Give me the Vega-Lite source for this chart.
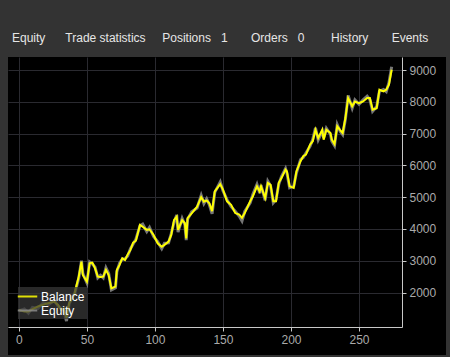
{
  "$schema": "https://vega.github.io/schema/vega-lite/v6.json",
  "autosize": {"type": "none"},
  "padding": {"left": 8, "top": 57, "right": 4, "bottom": 2},
  "width": 438,
  "height": 298,
  "background": "#333333",
  "title": {
    "text": "Equity\u00a0\u00a0\u00a0\u00a0\u00a0\u00a0Trade statistics\u00a0\u00a0\u00a0\u00a0\u00a0Positions\u00a0\u00a0\u00a01\u00a0\u00a0\u00a0\u00a0\u00a0\u00a0\u00a0Orders\u00a0\u00a0\u00a00\u00a0\u00a0\u00a0\u00a0\u00a0\u00a0\u00a0\u00a0History\u00a0\u00a0\u00a0\u00a0\u00a0\u00a0\u00a0Events",
    "anchor": "start",
    "dx": 4,
    "offset": 3,
    "baseline": "alphabetic",
    "color": "#e6e6e6",
    "fontSize": 12,
    "font": "Liberation Sans",
    "fontWeight": "normal"
  },
  "config": {
    "view": {"fill": "#000000", "stroke": null},
    "font": "Liberation Sans"
  },
  "data": {
    "values": [
      {"x": 0, "Balance": 1450, "Equity": 1420},
      {"x": 4, "Balance": 1400, "Equity": 1480},
      {"x": 7, "Balance": 1400, "Equity": 1350},
      {"x": 10, "Balance": 1480, "Equity": 1530},
      {"x": 14, "Balance": 1560, "Equity": 1500},
      {"x": 18, "Balance": 1620, "Equity": 1680},
      {"x": 22, "Balance": 1670, "Equity": 1620},
      {"x": 26, "Balance": 1710, "Equity": 1760},
      {"x": 29, "Balance": 1600, "Equity": 1560},
      {"x": 31, "Balance": 1450, "Equity": 1500},
      {"x": 33, "Balance": 1500, "Equity": 1420},
      {"x": 35, "Balance": 1200, "Equity": 1100},
      {"x": 37, "Balance": 1670, "Equity": 1640},
      {"x": 39, "Balance": 1800, "Equity": 1850},
      {"x": 41, "Balance": 1990, "Equity": 1960},
      {"x": 44, "Balance": 2500, "Equity": 2450},
      {"x": 46, "Balance": 2970, "Equity": 3000},
      {"x": 47, "Balance": 2550, "Equity": 2600},
      {"x": 50, "Balance": 2340, "Equity": 2300},
      {"x": 52, "Balance": 2920, "Equity": 2960},
      {"x": 54, "Balance": 2940, "Equity": 2900},
      {"x": 56, "Balance": 2760, "Equity": 2800},
      {"x": 58, "Balance": 2500, "Equity": 2460},
      {"x": 60, "Balance": 2490, "Equity": 2540},
      {"x": 62, "Balance": 2500, "Equity": 2460},
      {"x": 64, "Balance": 2710, "Equity": 2780},
      {"x": 66, "Balance": 2550, "Equity": 2600},
      {"x": 68, "Balance": 2130, "Equity": 2080},
      {"x": 71, "Balance": 2190, "Equity": 2150},
      {"x": 72, "Balance": 2710, "Equity": 2650},
      {"x": 74, "Balance": 2870, "Equity": 2920},
      {"x": 76, "Balance": 3080, "Equity": 3050},
      {"x": 78, "Balance": 3020, "Equity": 3060},
      {"x": 80, "Balance": 3200, "Equity": 3150},
      {"x": 82, "Balance": 3340, "Equity": 3380},
      {"x": 84, "Balance": 3570, "Equity": 3530},
      {"x": 86, "Balance": 3630, "Equity": 3680},
      {"x": 89, "Balance": 4130, "Equity": 4100},
      {"x": 91, "Balance": 4070, "Equity": 4150},
      {"x": 94, "Balance": 3970, "Equity": 3920},
      {"x": 96, "Balance": 3990, "Equity": 4050},
      {"x": 99, "Balance": 3810, "Equity": 3760},
      {"x": 102, "Balance": 3550, "Equity": 3600},
      {"x": 105, "Balance": 3440, "Equity": 3380},
      {"x": 107, "Balance": 3500, "Equity": 3550},
      {"x": 110, "Balance": 3600, "Equity": 3560},
      {"x": 112, "Balance": 3810, "Equity": 3860},
      {"x": 114, "Balance": 4280, "Equity": 4200},
      {"x": 116, "Balance": 4390, "Equity": 4440},
      {"x": 117, "Balance": 3970, "Equity": 3900},
      {"x": 120, "Balance": 4280, "Equity": 4330},
      {"x": 122, "Balance": 4180, "Equity": 4130},
      {"x": 123, "Balance": 3700, "Equity": 3650},
      {"x": 124, "Balance": 4340, "Equity": 4300},
      {"x": 127, "Balance": 4490, "Equity": 4540},
      {"x": 131, "Balance": 4700, "Equity": 4660},
      {"x": 134, "Balance": 5000, "Equity": 5060},
      {"x": 136, "Balance": 4860, "Equity": 4800},
      {"x": 138, "Balance": 4900, "Equity": 4950},
      {"x": 140, "Balance": 4810, "Equity": 4760},
      {"x": 142, "Balance": 4560, "Equity": 4480},
      {"x": 144, "Balance": 5180, "Equity": 5150},
      {"x": 148, "Balance": 5410, "Equity": 5480},
      {"x": 150, "Balance": 5240, "Equity": 5200},
      {"x": 153, "Balance": 4870, "Equity": 4920},
      {"x": 156, "Balance": 4760, "Equity": 4700},
      {"x": 159, "Balance": 4500, "Equity": 4560},
      {"x": 162, "Balance": 4450, "Equity": 4400},
      {"x": 164, "Balance": 4350, "Equity": 4250},
      {"x": 166, "Balance": 4500, "Equity": 4550},
      {"x": 170, "Balance": 4870, "Equity": 4820},
      {"x": 172, "Balance": 5030, "Equity": 5090},
      {"x": 175, "Balance": 5340, "Equity": 5400},
      {"x": 177, "Balance": 5180, "Equity": 5130},
      {"x": 178, "Balance": 5340, "Equity": 5380},
      {"x": 181, "Balance": 4970, "Equity": 4900},
      {"x": 183, "Balance": 5450, "Equity": 5500},
      {"x": 185, "Balance": 5390, "Equity": 5350},
      {"x": 187, "Balance": 4870, "Equity": 4820},
      {"x": 189, "Balance": 4870, "Equity": 4920},
      {"x": 191, "Balance": 5450, "Equity": 5400},
      {"x": 193, "Balance": 5600, "Equity": 5650},
      {"x": 196, "Balance": 5865, "Equity": 5900},
      {"x": 197, "Balance": 5810, "Equity": 5760},
      {"x": 199, "Balance": 5340, "Equity": 5300},
      {"x": 202, "Balance": 5290, "Equity": 5350},
      {"x": 204, "Balance": 5810, "Equity": 5760},
      {"x": 207, "Balance": 6130, "Equity": 6180},
      {"x": 209, "Balance": 6290, "Equity": 6250},
      {"x": 211, "Balance": 6340, "Equity": 6390},
      {"x": 214, "Balance": 6650, "Equity": 6600},
      {"x": 216, "Balance": 6760, "Equity": 6820},
      {"x": 218, "Balance": 7120, "Equity": 7180},
      {"x": 220, "Balance": 6860, "Equity": 6800},
      {"x": 223, "Balance": 7120, "Equity": 7080},
      {"x": 224, "Balance": 6810, "Equity": 6860},
      {"x": 226, "Balance": 7120, "Equity": 7170},
      {"x": 229, "Balance": 7020, "Equity": 6980},
      {"x": 230, "Balance": 6810, "Equity": 6760},
      {"x": 232, "Balance": 6670, "Equity": 6620},
      {"x": 234, "Balance": 7230, "Equity": 7280},
      {"x": 236, "Balance": 7120, "Equity": 7080},
      {"x": 238, "Balance": 7020, "Equity": 6970},
      {"x": 240, "Balance": 7490, "Equity": 7450},
      {"x": 242, "Balance": 8120, "Equity": 8200},
      {"x": 245, "Balance": 7860, "Equity": 7800},
      {"x": 247, "Balance": 8010, "Equity": 8060},
      {"x": 250, "Balance": 7960, "Equity": 7920},
      {"x": 253, "Balance": 8010, "Equity": 8060},
      {"x": 256, "Balance": 8120, "Equity": 8180},
      {"x": 258, "Balance": 8120, "Equity": 8070},
      {"x": 260, "Balance": 7750, "Equity": 7700},
      {"x": 263, "Balance": 7800, "Equity": 7850},
      {"x": 265, "Balance": 8380, "Equity": 8330},
      {"x": 268, "Balance": 8330, "Equity": 8390},
      {"x": 270, "Balance": 8380, "Equity": 8320},
      {"x": 272, "Balance": 8540, "Equity": 8600},
      {"x": 274, "Balance": 9010, "Equity": 9100}
    ]
  },
  "transform": [{"fold": ["Balance", "Equity"], "as": ["series", "value"]}],
  "resolve": {"axis": {"x": "independent", "y": "independent"}},
  "layer": [
    {
      "transform": [{"filter": "datum.series === 'Equity'"}],
      "mark": {"type": "line", "strokeWidth": 3, "opacity": 0.85},
      "encoding": {
        "x": {
          "field": "x",
          "type": "quantitative",
          "scale": {"domain": [-8, 281.6], "range": [0, 394], "nice": false, "zero": false},
          "axis": {
            "orient": "top",
            "values": [0, 50, 100, 150, 200, 250],
            "title": null,
            "grid": true,
            "gridColor": "#2a2a30",
            "domain": false,
            "ticks": false,
            "labels": false
          }
        },
        "y": {
          "field": "value",
          "type": "quantitative",
          "scale": {"domain": [915, 9410], "range": [270, 0], "nice": false, "zero": false},
          "axis": {
            "orient": "left",
            "values": [2000, 3000, 4000, 5000, 6000, 7000, 8000, 9000],
            "title": null,
            "grid": true,
            "gridColor": "#2a2a30",
            "domain": false,
            "ticks": false,
            "labels": false
          }
        },
        "color": {
          "field": "series",
          "type": "nominal",
          "scale": {"domain": ["Balance", "Equity"], "range": ["#ffff00", "#8a8a8a"]},
          "legend": {
            "orient": "none",
            "legendX": 10,
            "legendY": 230,
            "title": null,
            "fillColor": "rgba(55,55,55,0.75)",
            "padding": 2,
            "labelColor": "#ffffff",
            "labelFontSize": 12,
            "symbolType": "M-1.5,0H1.5",
            "symbolStrokeWidth": 2,
            "symbolSize": 169,
            "rowPadding": 0,
            "labelOffset": 6
          }
        }
      }
    },
    {
      "transform": [{"filter": "datum.series === 'Balance'"}],
      "mark": {"type": "line", "strokeWidth": 2},
      "encoding": {
        "x": {
          "field": "x",
          "type": "quantitative",
          "scale": {"domain": [-8, 281.6], "range": [0, 394], "nice": false, "zero": false},
          "axis": {
            "orient": "bottom",
            "offset": -28,
            "values": [0, 50, 100, 150, 200, 250],
            "title": null,
            "grid": false,
            "domainColor": "#c8c8c8",
            "tickColor": "#c8c8c8",
            "tickSize": 4,
            "labelColor": "#aaaaaa",
            "labelFontSize": 12,
            "labelPadding": 3,
            "labelFlush": false
          }
        },
        "y": {
          "field": "value",
          "type": "quantitative",
          "scale": {"domain": [915, 9410], "range": [270, 0], "nice": false, "zero": false},
          "axis": {
            "orient": "right",
            "offset": -44,
            "values": [2000, 3000, 4000, 5000, 6000, 7000, 8000, 9000],
            "format": "d",
            "title": null,
            "grid": false,
            "domainColor": "#c8c8c8",
            "tickColor": "#c8c8c8",
            "tickSize": 4,
            "labelColor": "#aaaaaa",
            "labelFontSize": 12,
            "labelPadding": 3,
            "labelFlush": false
          }
        },
        "color": {
          "field": "series",
          "type": "nominal",
          "scale": {"domain": ["Balance", "Equity"], "range": ["#ffff00", "#8a8a8a"]}
        }
      }
    }
  ]
}
